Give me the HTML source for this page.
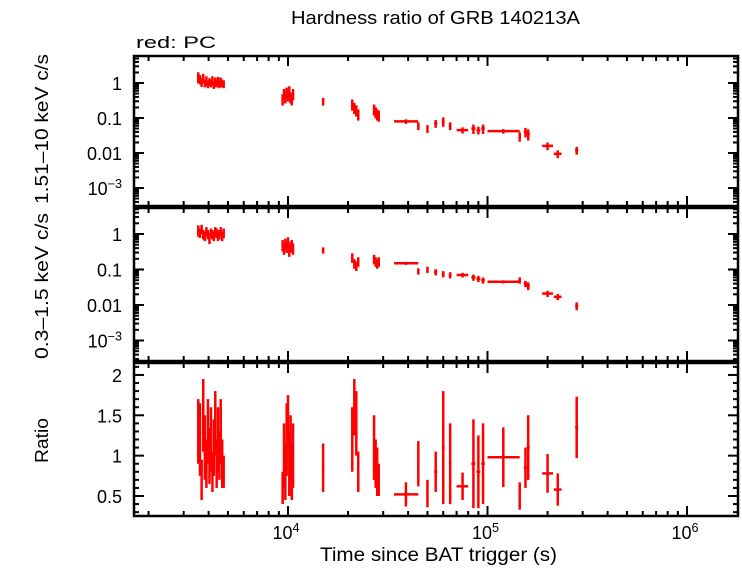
<!DOCTYPE html>
<html><head><meta charset="utf-8"><style>
body{margin:0;background:#fff;}
svg text{font-family:"Liberation Sans",sans-serif;fill:#000;}
</style></head><body>
<svg id="c" width="742" height="566" xmlns="http://www.w3.org/2000/svg">
<text x="291" y="24" font-size="18" textLength="289" lengthAdjust="spacingAndGlyphs">Hardness ratio of GRB 140213A</text>
<text x="136" y="48" font-size="17" textLength="80" lengthAdjust="spacingAndGlyphs">red: PC</text>
<text transform="translate(48,204) rotate(-90)" font-size="18" textLength="150" lengthAdjust="spacingAndGlyphs">1.51–10 keV c/s</text>
<text transform="translate(48,359) rotate(-90)" font-size="18" textLength="146" lengthAdjust="spacingAndGlyphs">0.3–1.5 keV c/s</text>
<text transform="translate(48,463) rotate(-90)" font-size="18" textLength="45" lengthAdjust="spacingAndGlyphs">Ratio</text>
<text x="320" y="561" font-size="19" textLength="237" lengthAdjust="spacingAndGlyphs">Time since BAT trigger (s)</text>
<g id="g"></g>
</svg>
<script>
const times=[3550,3620,3690,3760,3830,3900,3970,4040,4110,4180,4250,4320,4390,4460,4530,4600,4680,4760,
9400,9550,9700,9850,10000,10150,10300,10450,10600,15000,21000,21500,22000,22500,27000,27500,28000,28500,
39000,45000,50000,55000,60000,65000,75000,85000,90000,95000,120000,145000,155000,160000,200000,225000,280000];
const tLo=[3520,3590,3660,3730,3800,3870,3940,4010,4080,4150,4220,4290,4360,4430,4500,4570,4650,4730,
9350,9500,9650,9800,9950,10100,10250,10400,10550,14800,20800,21300,21800,22300,26800,27300,27800,28300,
34000,44500,49500,54000,59000,64000,70000,83000,88000,93000,100000,143000,152000,157000,188000,215000,275000];
const tHi=[3580,3650,3720,3790,3860,3930,4000,4070,4140,4210,4280,4350,4420,4490,4560,4630,4710,4790,
9450,9600,9750,9900,10050,10200,10350,10500,10650,15200,21200,21700,22200,22700,27200,27700,28200,28700,
45000,45500,50500,56000,61000,66000,80000,87000,92000,97000,145000,147000,158000,163000,213000,235000,285000];
const hard=[1.5,1.3,1.1,1.4,1.0,1.2,0.95,1.1,1.0,1.2,0.9,1.1,1.0,1.15,0.95,1.1,1.0,0.95,
0.35,0.5,0.4,0.55,0.45,0.6,0.4,0.35,0.5,0.3,0.25,0.2,0.17,0.13,0.18,0.15,0.13,0.12,
0.08,0.06,0.05,0.07,0.08,0.06,0.045,0.05,0.045,0.05,0.042,0.03,0.04,0.035,0.016,0.0095,0.012];
const hardErr=[0.35,0.3,0.3,0.3,0.25,0.3,0.25,0.25,0.25,0.3,0.25,0.3,0.25,0.3,0.25,0.3,0.25,0.25,
0.35,0.35,0.35,0.35,0.35,0.35,0.35,0.35,0.35,0.25,0.35,0.35,0.35,0.35,0.35,0.35,0.35,0.35,
0.15,0.25,0.25,0.25,0.3,0.25,0.2,0.3,0.25,0.3,0.15,0.3,0.3,0.35,0.25,0.25,0.25];
const soft=[1.3,1.1,1.4,1.0,0.9,1.2,1.0,0.8,1.1,1.0,0.9,1.2,1.1,0.9,1.0,1.2,0.9,1.1,
0.5,0.4,0.55,0.45,0.6,0.35,0.45,0.5,0.4,0.35,0.22,0.15,0.13,0.17,0.2,0.17,0.15,0.17,
0.15,0.09,0.1,0.085,0.075,0.07,0.07,0.06,0.055,0.05,0.045,0.05,0.04,0.035,0.021,0.017,0.0095];
const softErr=[0.35,0.3,0.3,0.3,0.3,0.3,0.3,0.35,0.3,0.3,0.3,0.3,0.3,0.3,0.3,0.3,0.3,0.3,
0.35,0.35,0.35,0.35,0.35,0.35,0.35,0.35,0.35,0.2,0.3,0.3,0.3,0.3,0.3,0.3,0.3,0.3,
0.1,0.2,0.2,0.2,0.2,0.2,0.15,0.2,0.2,0.2,0.1,0.2,0.2,0.25,0.2,0.2,0.25];
const ratio=[1.3,1.2,0.7,1.5,1.1,0.9,1.3,1.0,1.2,0.8,1.1,1.4,0.9,1.2,1.0,1.3,0.9,0.8,
0.6,1.0,0.8,1.2,1.4,0.9,1.1,0.8,1.0,0.85,1.2,1.6,1.4,0.8,1.1,0.9,0.8,0.7,
0.52,0.9,0.53,0.8,1.1,0.9,0.62,0.9,0.8,0.9,0.98,0.5,0.85,1.1,0.78,0.58,1.35];
const ratioErr=[0.4,0.45,0.25,0.45,0.4,0.3,0.4,0.35,0.4,0.25,0.35,0.4,0.3,0.4,0.3,0.4,0.3,0.2,
0.2,0.4,0.35,0.45,0.35,0.4,0.4,0.35,0.4,0.3,0.4,0.35,0.4,0.25,0.4,0.3,0.3,0.2,
0.15,0.28,0.17,0.25,0.7,0.5,0.17,0.55,0.45,0.5,0.37,0.17,0.25,0.4,0.24,0.2,0.38];

const NS="http://www.w3.org/2000/svg", G=document.getElementById('g');
const X0=134,X1=738;
function xs(t){return 288+199.5*Math.log10(t/1e4);}
const panels=[{top:56,bot:206,one:83,dec:35,vals:hard,errs:hardErr,name:'hard'},
{top:208,bot:361,one:234,dec:35.5,vals:soft,errs:softErr,name:'soft'}];
function ylog(p,v){return p.one-p.dec*Math.log10(v);}
function yr(v){return 496-(v-0.5)*80.7;}
function line(x1,y1,x2,y2,w,c,name){const l=document.createElementNS(NS,'line');
l.setAttribute('x1',x1);l.setAttribute('y1',y1);l.setAttribute('x2',x2);l.setAttribute('y2',y2);
l.setAttribute('stroke',c);l.setAttribute('stroke-width',w);


G.appendChild(l);}
function txt(x,y,s,anchor,size,name,sup){const t=document.createElementNS(NS,'text');
t.setAttribute('x',x);t.setAttribute('y',y);t.setAttribute('font-size',size);t.setAttribute('text-anchor',anchor);
t.textContent=s;
if(sup){const ts=document.createElementNS(NS,'tspan');ts.setAttribute('dy','-7');ts.setAttribute('font-size',size*0.7);ts.textContent=sup;t.appendChild(ts);}


G.appendChild(t);}
function xticks(top,bot){
 for(let e=3;e<=6;e++)for(let m=1;m<10;m++){const t=m*Math.pow(10,e);const x=xs(t);if(x<X0||x>X1)continue;
  const L=m==1?10:5;line(x,bot,x,bot-L,2,'#000','x-tick');line(x,top,x,top+L,2,'#000','x-tick');}
}
function frame(top,bot,name){const r=document.createElementNS(NS,'rect');
r.setAttribute('x',X0);r.setAttribute('y',top);r.setAttribute('width',X1-X0);r.setAttribute('height',bot-top);
r.setAttribute('fill','none');r.setAttribute('stroke','#000');r.setAttribute('stroke-width',2.5);


G.appendChild(r);}
panels.forEach(p=>{
 frame(p.top,p.bot,p.name+'-panel-frame');xticks(p.top,p.bot);
 for(let e=-4;e<=1;e++)for(let m=1;m<10;m++){const y=ylog(p,m*Math.pow(10,e));if(y<p.top||y>p.bot)continue;
  const L=m==1?10:5;line(X0,y,X0+L,y,2,'#000','y-tick');line(X1,y,X1-L,y,2,'#000','y-tick');}
 txt(122,ylog(p,1)+7,'1','end',18,'y-tick-label');
 txt(122,ylog(p,0.1)+7,'0.1','end',18,'y-tick-label');
 txt(122,ylog(p,0.01)+7,'0.01','end',18,'y-tick-label');
 txt(122,ylog(p,0.001)+7,'10','end',18,'y-tick-label','−3');
 for(let i=0;i<times.length;i++){
  const y=ylog(p,p.vals[i]),x=xs(times[i]);
  const yl=ylog(p,p.vals[i]*(1-Math.min(p.errs[i],0.6))),yh=ylog(p,p.vals[i]*(1+p.errs[i]));
  line(x,yh,x,yl,2.5,'#f00',p.name+'-error-bar');
  line(xs(tLo[i]),y,xs(tHi[i]),y,2.5,'#f00',p.name+'-time-bar');
 }
});
frame(363,516,'ratio-panel-frame');xticks(363,516);
for(let v=3;v<=21;v++){const y=yr(v/10);if(y<363||y>516)continue;const L=v%5==0?10:5;
 line(X0,y,X0+L,y,2,'#000','y-tick');line(X1,y,X1-L,y,2,'#000','y-tick');}
[[0.5,'0.5'],[1,'1'],[1.5,'1.5'],[2,'2']].forEach(a=>txt(122,yr(a[0])+7,a[1],'end',18,'ratio-tick-label'));
for(let i=0;i<times.length;i++){const x=xs(times[i]),y=yr(ratio[i]);
 line(x,yr(ratio[i]-ratioErr[i]),x,yr(ratio[i]+ratioErr[i]),2.5,'#f00','ratio-error-bar');
 line(xs(tLo[i]),y,xs(tHi[i]),y,2.5,'#f00','ratio-time-bar');}
[[1e4,'4'],[1e5,'5'],[1e6,'6']].forEach(a=>txt(xs(a[0])-2,539,'10','middle',18,'x-tick-label',a[1]));
</script>
</body></html>
